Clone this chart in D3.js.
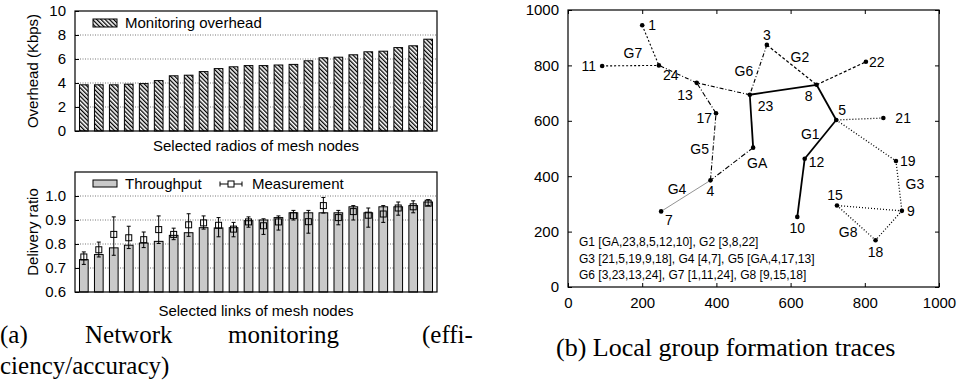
<!DOCTYPE html>
<html>
<head>
<meta charset="utf-8">
<script src="https://cdn.jsdelivr.net/npm/d3@7"></script>
<style>
  body { margin: 0; background: #fff; }
  svg text { font-family: "Liberation Sans", Arial, sans-serif; fill: #000; }
  .cap { font-family: "Liberation Serif", "Times New Roman", serif !important; }
</style>
</head>
<body>
<svg id="fig" width="963" height="381"></svg>
<script>
// ---- data ----
var overhead = [3.85, 3.85, 3.85, 3.9, 3.95, 4.2, 4.6, 4.65, 4.95, 5.2, 5.35, 5.45,
                5.45, 5.5, 5.55, 5.85, 6.1, 6.15, 6.35, 6.6, 6.65, 6.95, 7.1, 7.65];
var throughput = [0.735, 0.756, 0.784, 0.795, 0.804, 0.811, 0.836, 0.847, 0.868, 0.867, 0.868, 0.897,
                  0.9, 0.91, 0.93, 0.93, 0.93, 0.93, 0.955, 0.93, 0.955, 0.955, 0.96, 0.975];
var measure = [0.746, 0.776, 0.84, 0.826, 0.818, 0.86, 0.84, 0.88, 0.888, 0.878, 0.862, 0.892,
               0.876, 0.892, 0.918, 0.893, 0.96, 0.91, 0.935, 0.92, 0.925, 0.95, 0.955, 0.97];
var measLow = [0.715, 0.746, 0.753, 0.781, 0.785, 0.802, 0.818, 0.832, 0.862, 0.83, 0.83, 0.87,
               0.84, 0.858, 0.9, 0.845, 0.929, 0.88, 0.9, 0.87, 0.89, 0.92, 0.93, 0.96];
var measHigh = [0.767, 0.808, 0.913, 0.874, 0.85, 0.917, 0.866, 0.926, 0.917, 0.91, 0.89, 0.913,
                0.905, 0.917, 0.94, 0.94, 0.994, 0.94, 0.96, 0.95, 0.96, 0.975, 0.98, 0.985];
var overheadTicks = [0, 2, 4, 6, 8, 10];
var ratioTicks = [0.6, 0.7, 0.8, 0.9, 1.0];
var mapTicks = [0, 200, 400, 600, 800, 1000];

var nodes = [
  {id: "1",  x: 200, y: 945, lx: 6,  ly: 5,  a: "start"},
  {id: "24", x: 245, y: 800, lx: 4,  ly: 15, a: "start"},
  {id: "11", x: 92,  y: 798, lx: -6, ly: 5,  a: "end"},
  {id: "13", x: 347, y: 737, lx: -4, ly: 17, a: "end"},
  {id: "23", x: 490, y: 694, lx: 8,  ly: 16, a: "start"},
  {id: "3",  x: 536, y: 874, lx: 0,  ly: -5, a: "middle"},
  {id: "22", x: 803, y: 813, lx: 3,  ly: 5,  a: "start"},
  {id: "8",  x: 670, y: 730, lx: -4, ly: 16, a: "end"},
  {id: "5",  x: 723, y: 603, lx: 2,  ly: -5, a: "start"},
  {id: "21", x: 850, y: 610, lx: 12, ly: 5,  a: "start"},
  {id: "17", x: 399, y: 627, lx: -4, ly: 10, a: "end"},
  {id: "GA", x: 499, y: 503, lx: 4,  ly: 20, a: "middle"},
  {id: "12", x: 638, y: 463, lx: 4,  ly: 8,  a: "start"},
  {id: "19", x: 884, y: 455, lx: 4,  ly: 5,  a: "start"},
  {id: "4",  x: 384, y: 385, lx: 0,  ly: 16, a: "middle"},
  {id: "7",  x: 251, y: 273, lx: 4,  ly: 14, a: "start"},
  {id: "10", x: 618, y: 253, lx: 0,  ly: 16, a: "middle"},
  {id: "15", x: 725, y: 294, lx: -2, ly: -6, a: "middle"},
  {id: "9",  x: 900, y: 275, lx: 5,  ly: 5,  a: "start"},
  {id: "18", x: 829, y: 169, lx: 0,  ly: 17, a: "middle"}
];
var groups = [
  {name: "G1", lx: 653, ly: 551, edges: [["GA","23"],["23","8"],["8","5"],["5","12"],["12","10"]], dash: null, w: 1.8, c: "#000"},
  {name: "G2", lx: 625, ly: 832, edges: [["3","8"],["8","22"]], dash: "3,2", w: 1.2, c: "#000"},
  {name: "G3", lx: 935, ly: 372, edges: [["21","5"],["5","19"],["19","9"],["9","18"]], dash: "1,2", w: 1.3, c: "#000"},
  {name: "G4", lx: 294, ly: 355, edges: [["4","7"]], dash: null, w: 0.8, c: "#777"},
  {name: "G5", lx: 355, ly: 500, edges: [["GA","4"],["4","17"],["17","13"]], dash: "5,2,1,2", w: 1.1, c: "#000"},
  {name: "G6", lx: 474, ly: 781, edges: [["3","23"],["23","13"],["13","24"]], dash: "4,2,1,2", w: 1.1, c: "#000"},
  {name: "G7", lx: 175, ly: 844, edges: [["1","24"],["11","24"]], dash: "2,2", w: 1.1, c: "#000"},
  {name: "G8", lx: 755, ly: 200, edges: [["9","15"],["15","18"]], dash: "1,2", w: 1.3, c: "#000"}
];
var notes = ["G1 [GA,23,8,5,12,10], G2 [3,8,22]",
             "G3 [21,5,19,9,18], G4 [4,7], G5 [GA,4,17,13]",
             "G6 [3,23,13,24], G7 [1,11,24], G8 [9,15,18]"];

var svg = d3.select("#fig");

// hatch pattern for overhead bars
var defs = svg.append("defs");
defs.append("pattern")
  .attr("id", "hatch")
  .attr("patternUnits", "userSpaceOnUse")
  .attr("width", 3).attr("height", 3)
  .attr("patternTransform", "rotate(-45)")
  .call(function(p){
    p.append("rect").attr("width", 3).attr("height", 3).attr("fill", "#fff");
    p.append("line").attr("x1", 0.6).attr("y1", 0).attr("x2", 0.6).attr("y2", 3)
      .attr("stroke", "#000").attr("stroke-width", 1.4);
  });

// ---- left panels ----
var leftX = {min: 75, max: 437};
var xBand = d3.scaleBand().domain(d3.range(24)).range([leftX.min, leftX.max])
  .paddingInner(0.42).paddingOuter(0.3);

function frame(g, x0, x1, y0, y1){
  g.append("rect").attr("x", x0).attr("y", y0).attr("width", x1 - x0).attr("height", y1 - y0)
    .attr("fill", "none").attr("stroke", "#000").attr("stroke-width", 1.2);
}

function grid(g, yscale, ticks, x0, x1){
  g.selectAll(null).data(ticks).enter().append("line")
    .attr("x1", x0).attr("x2", x1)
    .attr("y1", function(d){ return yscale(d); }).attr("y2", function(d){ return yscale(d); })
    .attr("stroke", "#777").attr("stroke-width", 1).attr("stroke-dasharray", "1,1.5");
}

// top: overhead
var yTop = d3.scaleLinear().domain([0, 10]).range([131, 11]);
var topG = svg.append("g");
grid(topG, yTop, [2, 4, 6, 8], leftX.min, leftX.max);
topG.selectAll(null).data(overhead).enter().append("rect")
  .attr("x", function(d, i){ return xBand(i); })
  .attr("y", function(d){ return yTop(d); })
  .attr("width", xBand.bandwidth())
  .attr("height", function(d){ return yTop(0) - yTop(d); })
  .attr("fill", "url(#hatch)").attr("stroke", "#000").attr("stroke-width", 1);
frame(topG, leftX.min, leftX.max, 11, 131);
topG.append("g").attr("transform", "translate(" + leftX.min + ",0)")
  .call(d3.axisLeft(yTop).tickValues(overheadTicks).tickSize(-4).tickPadding(9).tickFormat(d3.format("d")))
  .call(function(a){ a.select(".domain").remove();
    a.selectAll("text").style("font-size", "15px").style("font-family", "Liberation Sans"); });
topG.append("rect").attr("x", 93).attr("y", 19).attr("width", 24).attr("height", 8)
  .attr("fill", "url(#hatch)").attr("stroke", "#000");
topG.append("text").attr("x", 125).attr("y", 28).style("font-size", "15px").text("Monitoring overhead");
topG.append("text").attr("x", (leftX.min + leftX.max) / 2).attr("y", 151)
  .attr("text-anchor", "middle").style("font-size", "15px").text("Selected radios of mesh nodes");
topG.append("text").attr("transform", "translate(38,71) rotate(-90)")
  .attr("text-anchor", "middle").style("font-size", "15px").text("Overhead (Kbps)");

// bottom: delivery ratio
var yBot = d3.scaleLinear().domain([0.6, 1.1]).range([292, 172]);
var botG = svg.append("g");
grid(botG, yBot, [0.7, 0.8, 0.9, 1.0], leftX.min, leftX.max);
botG.selectAll(null).data(throughput).enter().append("rect")
  .attr("x", function(d, i){ return xBand(i); })
  .attr("y", function(d){ return yBot(d); })
  .attr("width", xBand.bandwidth())
  .attr("height", function(d){ return yBot(0.6) - yBot(d); })
  .attr("fill", "#c9c9c9").attr("stroke", "#000").attr("stroke-width", 1);
var eb = botG.selectAll(null).data(measure).enter().append("g")
  .attr("transform", function(d, i){ return "translate(" + (xBand(i) + xBand.bandwidth() / 2) + ",0)"; });
eb.append("line").attr("x1", 0).attr("x2", 0)
  .attr("y1", function(d, i){ return yBot(measLow[i]); })
  .attr("y2", function(d, i){ return yBot(measHigh[i]); })
  .attr("stroke", "#000").attr("stroke-width", 1);
eb.append("line").attr("x1", -2).attr("x2", 2)
  .attr("y1", function(d, i){ return yBot(measLow[i]); })
  .attr("y2", function(d, i){ return yBot(measLow[i]); })
  .attr("stroke", "#000");
eb.append("line").attr("x1", -2).attr("x2", 2)
  .attr("y1", function(d, i){ return yBot(measHigh[i]); })
  .attr("y2", function(d, i){ return yBot(measHigh[i]); })
  .attr("stroke", "#000");
eb.append("rect").attr("x", -3).attr("width", 6).attr("height", 6)
  .attr("y", function(d){ return yBot(d) - 3; })
  .attr("fill", "none").attr("stroke", "#000").attr("stroke-width", 1);
frame(botG, leftX.min, leftX.max, 172, 292);
botG.append("g").attr("transform", "translate(" + leftX.min + ",0)")
  .call(d3.axisLeft(yBot).tickValues(ratioTicks).tickSize(-4).tickPadding(9).tickFormat(d3.format(".1f")))
  .call(function(a){ a.select(".domain").remove();
    a.selectAll("text").style("font-size", "15px").style("font-family", "Liberation Sans"); });
botG.append("rect").attr("x", 93).attr("y", 180).attr("width", 24).attr("height", 7)
  .attr("fill", "#c9c9c9").attr("stroke", "#000");
botG.append("text").attr("x", 125).attr("y", 189).style("font-size", "15px").text("Throughput");
var lg = botG.append("g").attr("transform", "translate(231,184)");
lg.append("line").attr("x1", -11).attr("x2", 11).attr("stroke", "#000");
lg.append("line").attr("x1", -11).attr("x2", -11).attr("y1", -2.5).attr("y2", 2.5).attr("stroke", "#000");
lg.append("line").attr("x1", 11).attr("x2", 11).attr("y1", -2.5).attr("y2", 2.5).attr("stroke", "#000");
lg.append("rect").attr("x", -3).attr("y", -3).attr("width", 6).attr("height", 6).attr("fill", "#fff").attr("stroke", "#000");
botG.append("text").attr("x", 252).attr("y", 189).style("font-size", "15px").text("Measurement");
botG.append("text").attr("x", (leftX.min + leftX.max) / 2).attr("y", 316)
  .attr("text-anchor", "middle").style("font-size", "15px").text("Selected links of mesh nodes");
botG.append("text").attr("transform", "translate(38,232) rotate(-90)")
  .attr("text-anchor", "middle").style("font-size", "15px").text("Delivery ratio");

// caption (a), justified line
var capA = [["(a)", 0], ["Network", 85], ["monitoring", 228], ["(effi-", 422]];
svg.selectAll(null).data(capA).enter().append("text").attr("class", "cap")
  .attr("x", function(d){ return d[1]; }).attr("y", 343)
  .style("font-size", "25px").text(function(d){ return d[0]; });
svg.append("text").attr("class", "cap").attr("x", 0).attr("y", 374)
  .style("font-size", "25px").text("ciency/accuracy)");

// ---- right panel: map ----
var mx = d3.scaleLinear().domain([0, 1000]).range([568, 939]);
var my = d3.scaleLinear().domain([0, 1000]).range([287, 10]);
var mapG = svg.append("g");
var byId = {};
nodes.forEach(function(n){ byId[n.id] = n; });

groups.forEach(function(gr){
  gr.edges.forEach(function(e){
    var a = byId[e[0]], b = byId[e[1]];
    mapG.append("line")
      .attr("x1", mx(a.x)).attr("y1", my(a.y)).attr("x2", mx(b.x)).attr("y2", my(b.y))
      .attr("stroke", gr.c).attr("stroke-width", gr.w)
      .attr("stroke-dasharray", gr.dash);
  });
  mapG.append("text").attr("x", mx(gr.lx)).attr("y", my(gr.ly) + 5)
    .attr("text-anchor", "middle").style("font-size", "14px").text(gr.name);
});

mapG.selectAll(null).data(nodes).enter().append("circle")
  .attr("cx", function(d){ return mx(d.x); }).attr("cy", function(d){ return my(d.y); })
  .attr("r", 2.3).attr("fill", "#000");
mapG.selectAll(null).data(nodes).enter().append("text")
  .attr("x", function(d){ return mx(d.x) + d.lx; }).attr("y", function(d){ return my(d.y) + d.ly; })
  .attr("text-anchor", function(d){ return d.a; })
  .style("font-size", "14px").text(function(d){ return d.id; });

mapG.selectAll(null).data(notes).enter().append("text")
  .attr("x", 579).attr("y", function(d, i){ return 246 + i * 16.5; })
  .style("font-size", "12px").text(function(d){ return d; });

mapG.append("rect").attr("x", 568).attr("y", 10).attr("width", 371).attr("height", 277)
  .attr("fill", "none").attr("stroke", "#000").attr("stroke-width", 1.2);
mapG.append("g").attr("transform", "translate(0,287)")
  .call(d3.axisBottom(mx).tickValues(mapTicks).tickSize(-4).tickPadding(10).tickFormat(d3.format("d")))
  .call(function(a){ a.select(".domain").remove();
    a.selectAll("text").style("font-size", "15px").style("font-family", "Liberation Sans"); });
mapG.append("g").attr("transform", "translate(0,10)")
  .call(d3.axisTop(mx).tickValues(mapTicks).tickSize(-4).tickFormat(""))
  .call(function(a){ a.select(".domain").remove(); });
mapG.append("g").attr("transform", "translate(568,0)")
  .call(d3.axisLeft(my).tickValues(mapTicks).tickSize(-4).tickPadding(9).tickFormat(d3.format("d")))
  .call(function(a){ a.select(".domain").remove();
    a.selectAll("text").style("font-size", "15px").style("font-family", "Liberation Sans"); });
mapG.append("g").attr("transform", "translate(939,0)")
  .call(d3.axisRight(my).tickValues(mapTicks).tickSize(-4).tickFormat(""))
  .call(function(a){ a.select(".domain").remove(); });

svg.append("text").attr("class", "cap").attr("x", 556).attr("y", 356)
  .style("font-size", "26px").text("(b) Local group formation traces");
</script>
</body>
</html>
